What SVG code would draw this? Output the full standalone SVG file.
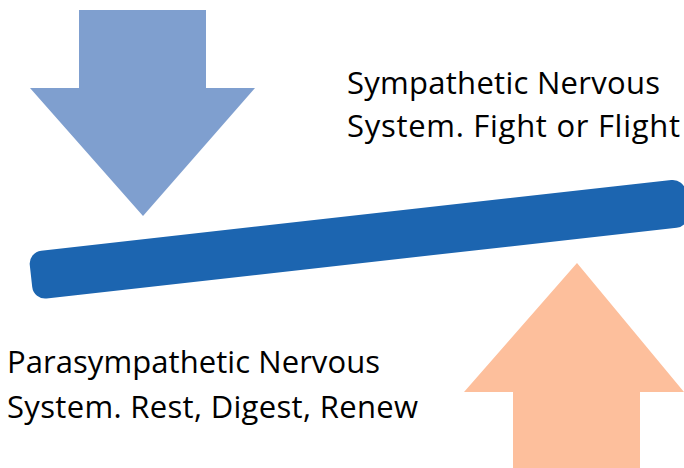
<svg xmlns="http://www.w3.org/2000/svg" width="684" height="468" viewBox="0 0 684 468">
<style>
.lbl{font-family:"Open Sans","Noto Sans","Liberation Sans",sans-serif;font-size:31px;fill:#000}
</style>
<rect width="684" height="468" fill="#ffffff"/>
<g id="arrow-down">
<polygon points="79,10 206,10 206,88 255,88 143,216 30,88 79,88" fill="#7f9fcf"/>
</g>
<g id="lever">
<rect x="0" y="-24" width="660" height="48" rx="13" ry="13" fill="#1c65b0" transform="translate(31,276) rotate(-6.4)"/>
</g>
<g id="arrow-up">
<polygon points="577,263 684,392 640,392 640,468 513,468 513,392 464,392" fill="#fdbf9c"/>
</g>
<g id="label-sympathetic">
<text class="lbl" x="347" y="94" textLength="313">Sympathetic Nervous</text>
<text class="lbl" x="347" y="137" textLength="333">System. Fight or Flight</text>
</g>
<g id="label-parasympathetic">
<text class="lbl" x="7" y="373" textLength="373">Parasympathetic Nervous</text>
<text class="lbl" x="7" y="418" textLength="411">System. Rest, Digest, Renew</text>
</g>
</svg>
